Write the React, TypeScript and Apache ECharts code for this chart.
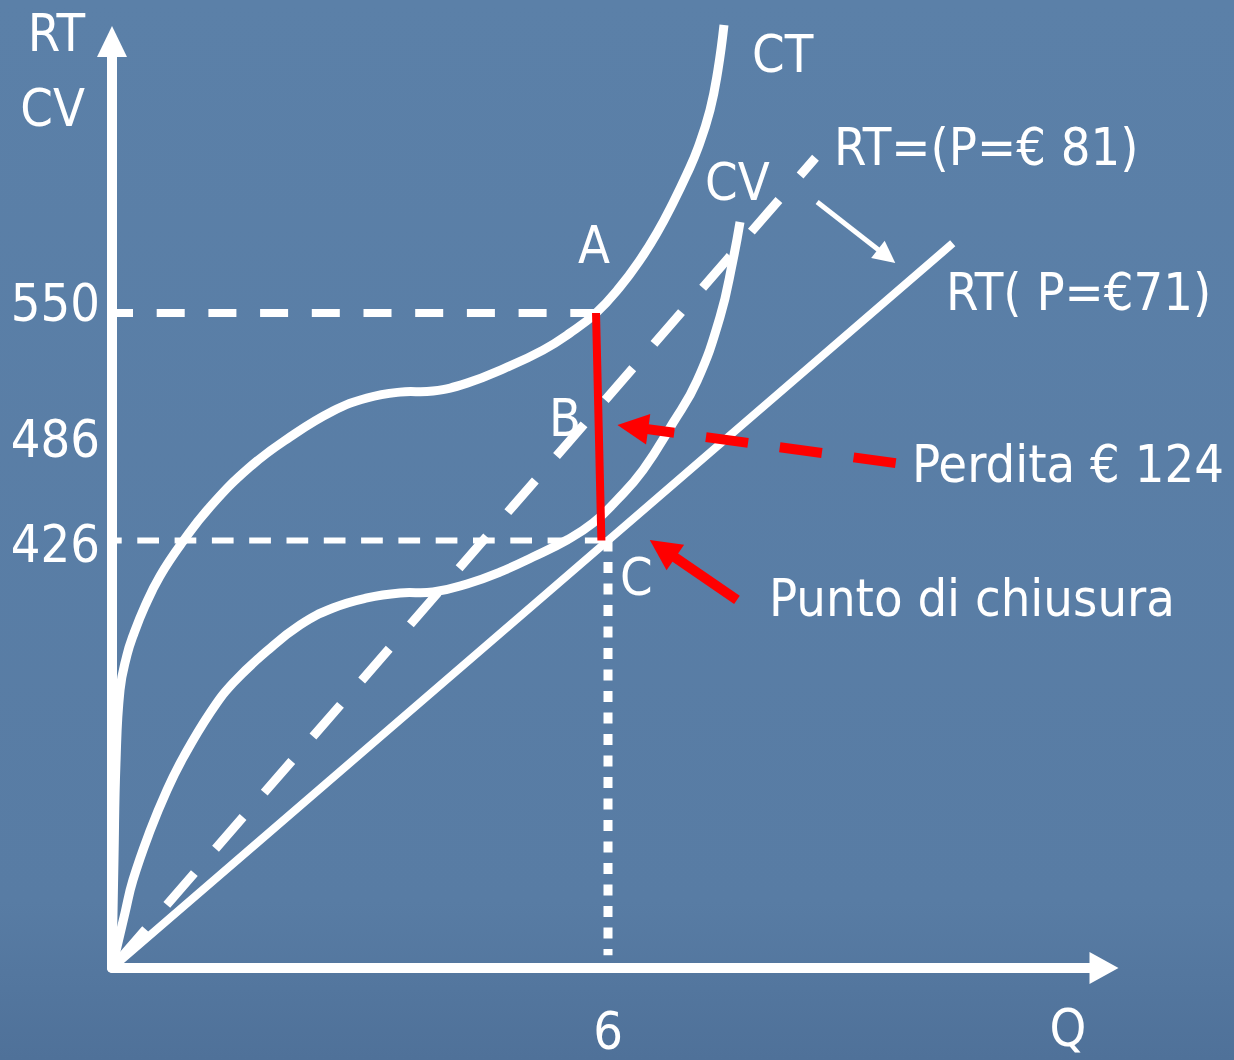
import React, { useEffect, useRef } from "react";
import * as echarts from "echarts";

// Quantity / value pairs for the cost and revenue curves (Q on x, euro on y)
const ctQ = [0, 0.024, 0.048, 0.097, 0.181, 0.254, 0.399, 0.581, 0.859, 1.185, 1.669, 2.153, 2.673, 3.085, 3.484, 3.883, 4.294, 4.754, 5.214, 5.54, 5.855, 6.145, 6.387, 6.592, 6.786, 6.955, 7.088, 7.234, 7.33, 7.403];
const ctV = [193, 251.9, 304.7, 344.5, 363.6, 374.0, 390.3, 406.7, 425.5, 444.3, 466.1, 482.4, 496.6, 503.7, 506.9, 507.5, 511.8, 520.0, 529.8, 539.1, 550, 564.2, 578.9, 593.6, 610.0, 625.8, 639.9, 660.6, 682.5, 707.0];

const cvQ = [0, 0.157, 0.254, 0.46, 0.665, 0.859, 1.185, 1.464, 1.875, 2.274, 2.673, 3.085, 3.484, 3.883, 4.294, 4.693, 5.092, 5.504, 5.818, 6.109, 6.423, 6.786, 7.076, 7.355, 7.512, 7.597];
const cvV = [193, 223.0, 241.0, 267.7, 290.0, 307.5, 332.0, 348.3, 365.8, 380.0, 389.2, 394.7, 397.4, 397.9, 402.3, 408.8, 417.0, 426.3, 435.5, 448.1, 464.4, 490.1, 512.9, 547.8, 578.9, 599.6];

// Revenue lines: price 71 (solid) and price 81 (dashed)
const rt71Q = [0, 6, 10.17];
const rt71V = [193, 426, 588];
const rt81Q = [0, 8.51];
const rt81V = [193, 634.6];

// Key points: A on CT, C the shutdown point
const pointA = [5.855, 550];
const pointC = [6, 426];
const lossBottom = [5.92, 426];

// Axis ticks
const qTicks = [6];
const valueTicks = [426, 486, 550];

// Annotation arrows [from, to] in data units
const lossArrow = [[9.48, 468.2], [6.3, 487.8]];
const shutdownArrow = [[7.56, 393.6], [6.66, 421.5]];
const priceArrow = [[8.53, 610.5], [9.37, 581.0]];

const FONT = '"DejaVu Sans Condensed", "DejaVu Sans", sans-serif';
const WHITE = "#ffffff";
const RED = "#ff0000";

const zip = (xs: number[], ys: number[]) => xs.map((x, i) => [x, ys[i]]);

// Per-label vertical nudges for the value tick labels
const tickPadding: Record<number, number[]> = {
  550: [0, 0, 20, 0],
  486: [17, 0, 0, 0],
  426: [7, 0, 0, 0],
};

export default function App() {
  const ref = useRef<HTMLDivElement>(null);

  useEffect(() => {
    document.body.style.margin = "0";
    if (!ref.current) return;
    const chart = echarts.init(ref.current, undefined, { renderer: "svg" });

    const guide = (data: number[][], width: number, dash: number[], offset: number, color = WHITE, z = 3) => ({
      type: "line",
      data,
      showSymbol: false,
      silent: true,
      clip: false,
      z,
      lineStyle: { color, width, type: dash, dashOffset: offset, cap: "butt" },
    });

    // A smooth spline through the points, projected with the cartesian axes
    const curve = (data: number[][], width: number) => ({
      type: "custom",
      coordinateSystem: "cartesian2d",
      silent: true,
      clip: false,
      z: 4,
      data,
      renderItem: (params: any, api: any) => {
        if (params.dataIndex !== 0) return null;
        const points = data.map((p) => api.coord(p));
        return {
          type: "polyline",
          shape: { points, smooth: 0.45 },
          style: { stroke: WHITE, lineWidth: width, fill: null, lineCap: "butt", lineJoin: "round" },
        };
      },
    });

    const arrow = (coords: number[][], color: string, width: number, head: number, dash?: number[]) => ({
      type: "lines",
      coordinateSystem: "cartesian2d",
      silent: true,
      z: 6,
      symbol: ["none", "triangle"],
      symbolSize: head,
      lineStyle: { color, width, opacity: 1, type: dash || "solid", curveness: 0 },
      itemStyle: { color },
      data: [{ coords }],
    });

    const label = (text: string, x: number, y: number) => ({
      type: "text",
      x,
      y,
      z: 10,
      style: {
        text,
        fill: WHITE,
        fontSize: 52,
        fontFamily: FONT,
        align: "left",
        verticalAlign: "middle",
      },
    });

    const richStyles: Record<string, any> = {};
    valueTicks.forEach((v) => {
      richStyles["t" + v] = { fontSize: 52, fontFamily: FONT, color: WHITE, padding: tickPadding[v] };
    });

    chart.setOption({
      animation: false,
      backgroundColor: {
        type: "linear",
        x: 0,
        y: 0,
        x2: 0,
        y2: 1,
        colorStops: [
          { offset: 0, color: "#5b80a8" },
          { offset: 0.85, color: "#587ca4" },
          { offset: 1, color: "#4f7199" },
        ],
      },
      grid: { left: 112, right: 130, top: 41.5, bottom: 92, containLabel: false, outerBoundsMode: "none" },
      xAxis: {
        type: "value",
        min: 0,
        max: 12,
        name: "Q",
        nameLocation: "end",
        nameGap: -36,
        nameTextStyle: { color: WHITE, fontSize: 52, fontFamily: FONT, align: "center", verticalAlign: "top", lineHeight: 44, padding: [38, 0, 0, 0] },
        axisLine: { show: true, onZero: false, symbol: ["none", "triangle"], symbolSize: [32, 29], lineStyle: { color: WHITE, width: 10 } },
        axisTick: { show: false },
        splitLine: { show: false },
        axisLabel: {
          customValues: qTicks,
          color: WHITE,
          fontSize: 52,
          fontFamily: FONT,
          lineHeight: 40,
          margin: 43,
        },
      },
      yAxis: {
        type: "value",
        min: 193,
        max: 698,
        name: "RT\nCV",
        nameLocation: "end",
        nameGap: 46,
        nameMoveOverlap: false,
        nameTextStyle: { color: WHITE, fontSize: 52, fontFamily: FONT, align: "right", verticalAlign: "top", lineHeight: 75, padding: [0, 27, 0, 0] },
        axisLine: { show: true, onZero: false, symbol: ["none", "triangle"], symbolSize: [30, 31], lineStyle: { color: WHITE, width: 10 } },
        axisTick: { show: false },
        splitLine: { show: false },
        axisLabel: {
          customValues: valueTicks,
          margin: 12,
          formatter: (v: number) => `{t${v}|${v}}`,
          rich: richStyles,
        },
      },
      series: [
        // guide lines to the axes
        guide([[0, pointA[1]], pointA], 8, [28, 23.7], 7),
        guide([[0, pointC[1]], pointC], 6, [21.7, 15.6], 11.6),
        guide([pointC, [pointC[0], 200]], 9, [11, 10.5], 0),
        // revenue lines
        guide(zip(rt81Q, rt81V), 9, [42, 32.3], 64.6),
        {
          type: "line",
          data: zip(rt71Q, rt71V),
          showSymbol: false,
          silent: true,
          clip: false,
          z: 4,
          lineStyle: { color: WHITE, width: 8, cap: "butt" },
        },
        // cost curves
        curve(zip(ctQ, ctV), 9),
        curve(zip(cvQ, cvV), 9),
        // loss segment A-C
        {
          type: "line",
          data: [pointA, lossBottom],
          showSymbol: false,
          silent: true,
          z: 5,
          lineStyle: { color: RED, width: 8 },
        },
        arrow(lossArrow, RED, 10, 31, [42.5, 32]),
        arrow(shutdownArrow, RED, 10, 31),
        arrow(priceArrow, WHITE, 5, 22),
      ],
      graphic: [
        label("CT", 752, 54),
        label("CV", 705, 182),
        label("RT=(P=€ 81)", 834, 147),
        label("RT( P=€71)", 946, 292),
        label("A", 578, 245),
        label("B", 549, 418),
        label("C", 620, 577),
        label("Perdita € 124", 912, 464),
        label("Punto di chiusura", 769, 598),
      ],
    });

    return () => chart.dispose();
  }, []);

  return (
    <div
      ref={ref}
      style={{ position: "absolute", left: 0, top: 0, width: 1234, height: 1060 }}
    />
  );
}
